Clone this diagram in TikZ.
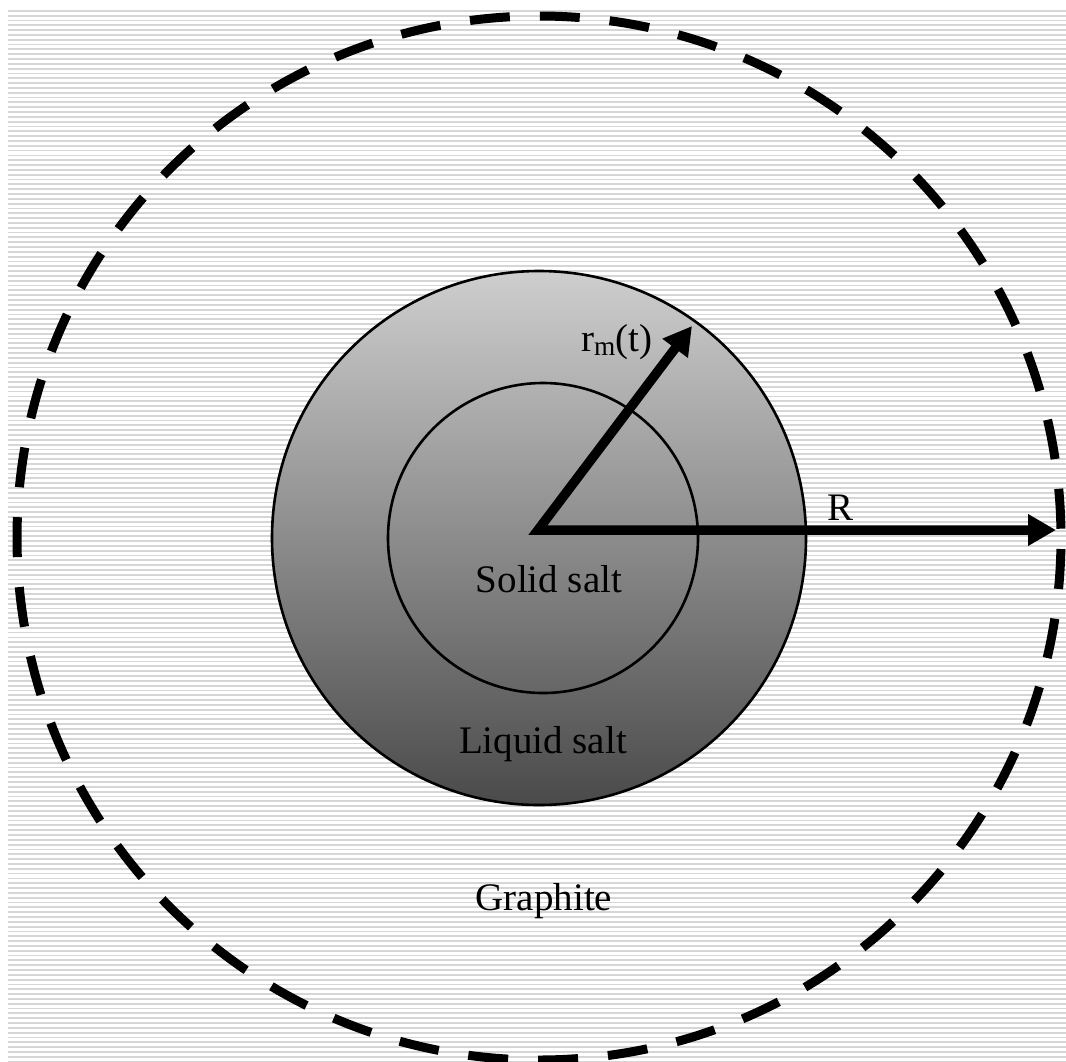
\documentclass[tikz,border=0pt]{standalone}
\usepackage{fontspec}
\setmainfont{Liberation Serif}
\usetikzlibrary{arrows.meta}
\definecolor{stripegray}{RGB}{214,214,214}
\definecolor{shadetop}{RGB}{206,206,206}
\definecolor{shadebot}{RGB}{74,74,74}
\tikzset{
  stripe/.style={draw=stripegray, line width=1.8pt},
  region/.style={draw=black, line width=2.6pt},
  boundary/.style={draw=black, line width=9pt, dash pattern=on 40pt off 30pt, dash phase=59pt},
  radius arrow/.style={line width=9.5pt, line join=miter,
    {Triangle[length=28pt,width=30pt]}-{Triangle[length=28pt,width=30pt]}},
  lbl/.style={font=\fontsize{39}{44}\selectfont, inner sep=0pt, anchor=base}
}
\begin{document}
\begin{tikzpicture}[x=1pt,y=-1pt]
\useasboundingbox (0,0) rectangle (1066,1061);
% striped background
\foreach \i in {0,...,218}{
  \draw[stripe] (8,{10.8+4.82*\i}) -- (1066,{10.8+4.82*\i});
}
% centres
\coordinate (c) at (539,538);
\coordinate (ci) at (543,538);
\coordinate (o) at (538,530);
\coordinate (tipm) at (692,326);
\coordinate (tipR) at (1056,530);
% salt sphere
\shade[top color=shadetop, bottom color=shadebot] (c) circle (267);
\draw[region] (c) circle (267);
\draw[region] (ci) circle (155);
% graphite boundary
\draw[boundary] (c) circle (522);
% radii
\draw[radius arrow] (tipm) -- (o) -- (tipR);
% labels
\node[lbl] (rm) at (617,351) {r\textsubscript{m}(t)};
\node[lbl] (R) at (840,520) {R};
\node[lbl] (solid) at (549,592) {Solid salt};
\node[lbl] (liquid) at (543,753) {Liquid salt};
\node[lbl] (graphite) at (544,910) {Graphite};
\end{tikzpicture}
\end{document}
